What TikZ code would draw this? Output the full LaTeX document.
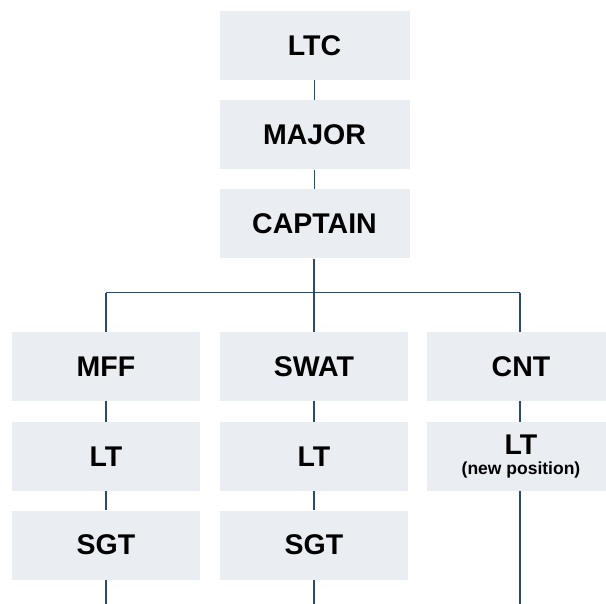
\documentclass[tikz,border=0pt]{standalone}
\usepackage{fontspec}
\setmainfont{Liberation Sans}
\definecolor{boxfill}{HTML}{EAEDF2}
\definecolor{linecol}{HTML}{2C4A6B}
\begin{document}
\begin{tikzpicture}[x=1pt,y=-1pt,
  rank/.style={fill=boxfill, minimum height=69pt, minimum width=188pt, inner sep=0pt,
    font=\fontsize{28.5}{30}\selectfont\bfseries, text=black},
  toprank/.style={rank, minimum width=190pt},
  link/.style={draw=linecol, line width=1.6pt}]
\useasboundingbox (0,0) rectangle (606,604);
\node[toprank] (ltc) at (314.5,45.5) {LTC};
\node[toprank] (major) at (314.5,135) {MAJOR};
\node[toprank] (captain) at (314.5,224) {CAPTAIN};
\node[rank] (mff) at (106,366.3) {MFF};
\node[rank] (lt1) at (106,456.3) {LT};
\node[rank] (sgt1) at (106,545) {SGT};
\node[rank] (swat) at (314,366.3) {SWAT};
\node[rank] (lt2) at (314,456.3) {LT};
\node[rank] (sgt2) at (314,545) {SGT};
\node[rank] (cnt) at (521,366.3) {CNT};
\node[rank, align=center] (lt3) at (521,456.3) {\raisebox{-1.5pt}{LT}\\[-9pt]{\fontsize{17.5}{18}\selectfont (new position)}};
\coordinate (busl) at (106,292.7);
\coordinate (busm) at (314,292.7);
\coordinate (busr) at (520,292.7);
\coordinate (end1) at (106,604);
\coordinate (end2) at (314,604);
\coordinate (end3) at (520,604);
\draw[link] (ltc) -- (major);
\draw[link] (major) -- (captain);
\draw[link] (captain.south -| busm) -- (busm);
\draw[link] (busl) -- (busr);
\draw[link] (busl) -- (mff.north -| busl);
\draw[link] (busm) -- (swat.north);
\draw[link] (busr) -- (cnt.north -| busr);
\draw[link] (mff) -- (lt1);
\draw[link] (lt1) -- (sgt1);
\draw[link] (sgt1) -- (end1);
\draw[link] (swat) -- (lt2);
\draw[link] (lt2) -- (sgt2);
\draw[link] (sgt2) -- (end2);
\draw[link] (cnt.south -| busr) -- (lt3.north -| busr);
\draw[link] (lt3.south -| busr) -- (end3);
\end{tikzpicture}
\end{document}
